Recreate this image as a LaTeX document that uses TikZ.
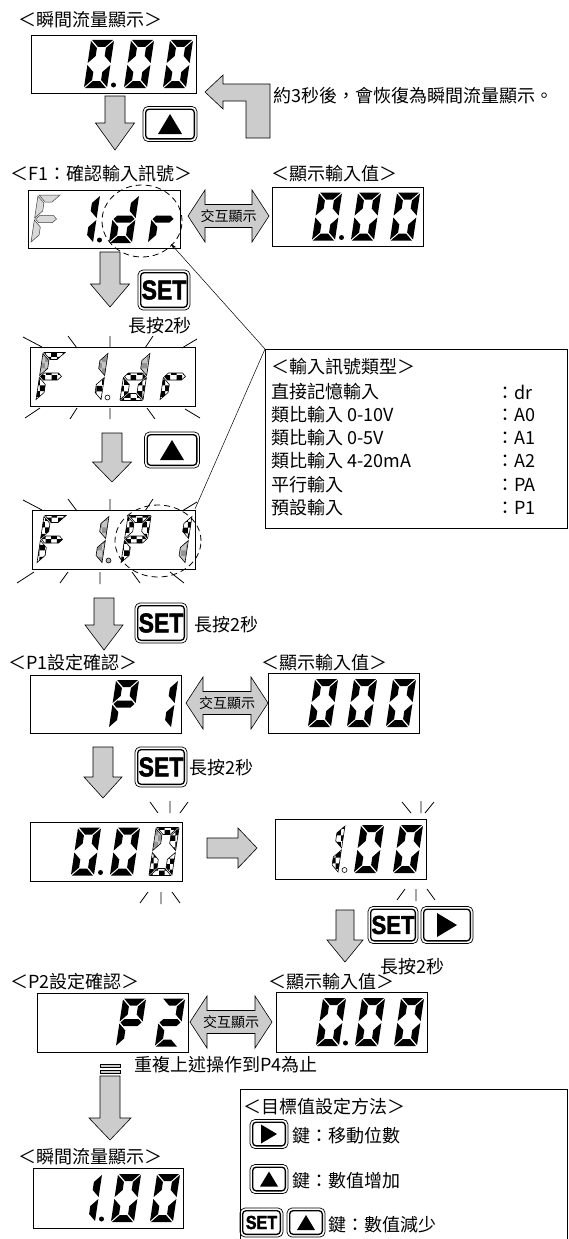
\documentclass[tikz,border=0pt]{standalone}
\usepackage{fontspec}
\setmainfont{Noto Sans CJK TC}
\newfontfamily\setfont{Liberation Sans}[BoldFeatures={FakeBold=2}]
\usepackage{graphicx}
\usetikzlibrary{patterns,calc,arrows.meta}

\tikzset{
  s0/.style={},
  s1/.style={fill=black},
  s2/.style={draw=black,line width=0.6pt,pattern=checkerboard,pattern color=black},
  s3/.style={draw=black,line width=0.6pt,preaction={fill=gray!45},pattern=checkerboard,pattern color=gray!85},
  s4/.style={draw=black!75,line width=0.5pt,fill=gray!30},
  dispbox/.style={draw,line width=0.8pt,inner sep=0pt,anchor=north west},
  garrow/.style={draw=black,line width=0.6pt,fill=black!20,line join=miter},
  lbl/.style={inner sep=0pt,anchor=west,font=\fontsize{18pt}{21pt}\selectfont},
  clbl/.style={inner sep=0pt,font=\fontsize{18pt}{21pt}\selectfont},
  xlbl/.style={inner sep=0pt,font=\fontsize{14pt}{16pt}\selectfont},
  ray/.style={line width=0.8pt},
}

% seven segment digit: x, y, then states of a b c d e f g
\newcommand\sdig[9]{%
  \begin{scope}[shift={(#1,#2)},xslant=0.15]
    \path[s#3] (-10.5,-24) -- (10.5,-24) -- (3.5,-17) -- (-3.5,-17) -- cycle;
    \path[s#4] (11.5,-23) -- (11.5,-1) -- (4.5,-8) -- (4.5,-16) -- cycle;
    \path[s#5] (11.5,23) -- (11.5,1) -- (4.5,8) -- (4.5,16) -- cycle;
    \path[s#6] (-10.5,24) -- (10.5,24) -- (3.5,17) -- (-3.5,17) -- cycle;
    \path[s#7] (-11.5,23) -- (-11.5,1) -- (-4.5,8) -- (-4.5,16) -- cycle;
    \path[s#8] (-11.5,-23) -- (-11.5,-1) -- (-4.5,-8) -- (-4.5,-16) -- cycle;
    \path[s#9] (-10.5,0) -- (-7,-3.5) -- (7,-3.5) -- (10.5,0) -- (7,3.5) -- (-7,3.5) -- cycle;
  \end{scope}}
\newcommand\dzero[2]{\sdig{#1}{#2}{1}{1}{1}{1}{1}{1}{0}}
\newcommand\done[2]{\sdig{#1}{#2}{0}{1}{1}{0}{0}{0}{0}}
\newcommand\dpt[3]{\path[#3] (#1,#2) circle (2.5pt);}

\newcommand\btnframe[5]{%
  \node[draw,line width=0.7pt,rounded corners=5pt,minimum width=#4pt,minimum height=#5pt,inner sep=0pt] (#1) at (#2,#3) {};
  \draw[line width=1.3pt,rounded corners=3.5pt] ([shift={(3pt,3pt)}]#1.south west) rectangle ([shift={(-3pt,-3pt)}]#1.north east);}
\newcommand\upbtn[7]{\btnframe{#1}{#2}{#3}{#4}{#5}%
  \fill ({#2-#6},{#3+#7}) -- ({#2+#6},{#3+#7}) -- (#2,{#3-#7}) -- cycle;}
\newcommand\rtbtn[7]{\btnframe{#1}{#2}{#3}{#4}{#5}%
  \fill ({#2-#6},{#3-#7}) -- ({#2-#6},{#3+#7}) -- ({#2+#6},#3) -- cycle;}
\newcommand\setbtn[6]{\btnframe{#1}{#2}{#3}{#4}{#5}%
  \node[inner sep=0pt] at (#1) {\setfont\bfseries\fontsize{#6pt}{#6pt}\selectfont\scalebox{0.85}[1]{SET}};}

% down block arrow: cx, top, headbase, tip, shaft half, head half
\newcommand\darrow[6]{%
  \path[garrow] ({#1-#5},#2) -- ({#1+#5},#2) -- ({#1+#5},#3) -- ({#1+#6},#3) -- (#1,#4) -- ({#1-#6},#3) -- ({#1-#5},#3) -- cycle;}
% double block arrow: name, x1, x2, cy
\newcommand\dblarrow[4]{%
  \path[garrow] (#2,#4) -- ({#2+17},{#4-26}) -- ({#2+17},{#4-11.5}) -- ({#3-17},{#4-11.5}) -- ({#3-17},{#4-26}) -- (#3,#4) -- ({#3-17},{#4+26}) -- ({#3-17},{#4+11.5}) -- ({#2+17},{#4+11.5}) -- ({#2+17},{#4+26}) -- cycle;
  \node[xlbl] (#1) at ({(#2+#3)/2},#4) {交互顯示};}

\begin{document}
\begin{tikzpicture}[x=1pt,y=-1pt]
\useasboundingbox[fill=white] (0,0) rectangle (568,1239);

% ---------- row 1
\node[lbl] (l1) at (18,20) {＜瞬間流量顯示＞};
\node[dispbox,minimum width=165pt,minimum height=58pt] (b1) at (31,35) {};
\dzero{99}{64}\dzero{139}{64}\dzero{178}{64}\dpt{113.5}{85}{fill=black}
\darrow{115}{96}{123}{150}{10}{19.5}
\upbtn{u1}{170}{124}{54}{35}{12}{10}
\path[garrow] (205,92) -- (223,75) -- (223,84) -- (270,84) -- (270,138) -- (246,138) -- (246,101) -- (223,101) -- (223,109) -- cycle;
\node[lbl] (t1) at (273,96) {約3秒後，會恢復為瞬間流量顯示。};

% ---------- row 2
\node[lbl] (l2) at (10,174) {＜F1：確認輸入訊號＞};
\node[lbl] (l3) at (271,174) {＜顯示輸入值＞};
\node[dispbox,minimum width=152pt,minimum height=58pt] (b2) at (28,190) {};
\sdig{46}{219}{4}{0}{0}{0}{4}{4}{4}
\done{85}{219}
\sdig{124}{219}{0}{1}{1}{1}{1}{0}{1}
\sdig{163}{219}{0}{0}{0}{0}{1}{0}{1}
\dpt{99.5}{240}{fill=black}
\draw[dashed,dash pattern=on 6pt off 4pt,line width=0.8pt] (142,221) ellipse [x radius=40pt,y radius=36pt];
\dblarrow{x1}{188}{269}{216}
\node[dispbox,minimum width=151pt,minimum height=59pt] (b2r) at (272,187) {};
\dzero{327}{216.5}\dzero{366}{216.5}\dzero{405}{216.5}\dpt{341.5}{237.5}{fill=black}

% ---------- row 3
\darrow{110}{252}{284}{307}{10}{19.5}
\setbtn{s1}{164}{290}{52}{40}{27}
\node[clbl] (h1) at (160,326) {長按2秒};

% ---------- row 4 (blinking F1.dr)
\node[dispbox,minimum width=165pt,minimum height=59pt] (b3) at (30,347) {};
\sdig{51}{376.5}{2}{0}{0}{0}{2}{3}{2}
\sdig{93}{376.5}{0}{3}{2}{0}{0}{0}{0}
\sdig{135}{376.5}{0}{3}{2}{2}{2}{0}{2}
\sdig{175}{376.5}{0}{0}{0}{0}{2}{0}{2}
\dpt{107.5}{397.5}{draw=black,line width=0.6pt,fill=white}
\draw[ray] (23,337) -- (42,347) (68,336) -- (77,348) (110,336) -- (110,347) (153,336) -- (145,348) (197,339) -- (182,348);
\draw[ray] (25,418) -- (40,408) (70,419) -- (77,408) (110,419) -- (110,408) (155,419) -- (147,408) (200,418) -- (185,409);
\darrow{112}{433}{462}{482}{10}{19.5}
\upbtn{u2}{172}{450}{55}{36}{12}{10}

% ---------- row 5 (blinking F1.P1)
\node[dispbox,minimum width=163pt,minimum height=59pt] (b4) at (32,510) {};
\sdig{52}{539.5}{2}{0}{0}{0}{2}{2}{2}
\sdig{94}{539.5}{0}{3}{3}{0}{0}{0}{0}
\sdig{136}{539.5}{2}{2}{0}{0}{2}{2}{2}
\sdig{177}{539.5}{0}{2}{3}{0}{0}{0}{0}
\dpt{108.5}{560.5}{draw=black,line width=0.6pt,fill=gray!60}
\draw[ray] (23,500) -- (42,510) (68,499) -- (77,511) (110,499) -- (110,510) (153,499) -- (145,511) (197,502) -- (182,511);
\draw[ray] (17,583) -- (34,572) (60,583) -- (68,572) (100,584) -- (100,572) (140,583) -- (132,572) (184,583) -- (170,572);
\draw[dashed,dash pattern=on 6pt off 4pt,line width=0.8pt] (158,541) ellipse [x radius=43pt,y radius=36pt];

% legend 1
\node[draw,line width=0.8pt,anchor=north west,minimum width=302pt,minimum height=179pt,inner sep=0pt] (leg1) at (265,349) {};
\coordinate (rtip) at (171,244);
\coordinate (ptip) at (195,509);
\draw[line width=0.5pt,-{Stealth[length=6pt,width=3.5pt]}] (leg1.north west) -- (rtip);
\draw[line width=0.5pt] (leg1.north west) -- (ptip);
\node[lbl] (g0) at (271,367) {＜輸入訊號類型＞};
\node[lbl] (g1) at (271,392) {直接記憶輸入};
\node[lbl] (g2) at (271,415) {類比輸入 0-10V};
\node[lbl] (g3) at (271,438) {類比輸入 0-5V};
\node[lbl] (g4) at (271,461) {類比輸入 4-20mA};
\node[lbl] (g5) at (271,485) {平行輸入};
\node[lbl] (g6) at (271,508) {預設輸入};
\node[lbl] (v1) at (496,392) {：dr};
\node[lbl] (v2) at (496,415) {：A0};
\node[lbl] (v3) at (496,438) {：A1};
\node[lbl] (v4) at (496,461) {：A2};
\node[lbl] (v5) at (496,485) {：PA};
\node[lbl] (v6) at (496,508) {：P1};

% ---------- row 6
\darrow{104}{598}{625}{650}{10}{19}
\setbtn{s2}{161}{623}{52}{40}{27}
\node[lbl] (h2) at (194,625) {長按2秒};
\node[lbl] (l4) at (8,663) {＜P1設定確認＞};
\node[lbl] (l5) at (261,663) {＜顯示輸入值＞};
\node[dispbox,minimum width=151pt,minimum height=58pt] (b5) at (30,675) {};
\sdig{124}{704}{1}{1}{0}{0}{1}{1}{1}
\done{163}{704}
\dblarrow{x2}{186}{268}{703}
\node[dispbox,minimum width=151pt,minimum height=60pt] (b5r) at (268,673) {};
\dzero{323}{703}\dzero{362}{703}\dzero{401}{703}

% ---------- row 7
\darrow{103}{747}{777}{798}{10}{19}
\setbtn{s3}{161}{767}{52}{40}{27}
\node[lbl] (h3) at (189,768) {長按2秒};
\node[dispbox,minimum width=152pt,minimum height=59pt] (b6) at (30,822) {};
\dzero{86}{851.5}\dzero{125}{851.5}
\sdig{164}{851.5}{2}{2}{2}{2}{2}{3}{0}
\dpt{100.5}{872.5}{fill=black}
\draw[ray] (150,802) -- (158,813) (170,801) -- (170,813) (188,802) -- (180,813);
\draw[ray] (140,903) -- (148,892) (161,904) -- (161,892) (180,903) -- (172,892);
\path[garrow] (207,838) -- (238,838) -- (238,828) -- (257,848) -- (238,868) -- (238,858) -- (207,858) -- cycle;
\node[dispbox,minimum width=151pt,minimum height=60pt] (b7) at (275,819) {};
\sdig{330}{849}{0}{2}{2}{0}{0}{0}{0}
\dzero{369}{849}\dzero{408}{849}
\dpt{344.5}{870}{draw=black,line width=0.6pt,fill=white}
\draw[ray] (402,802) -- (411,813) (421,801) -- (421,813) (434,802) -- (425,813);
\draw[ray] (397,900) -- (405,889) (416,901) -- (416,889) (435,900) -- (427,889);

% ---------- row 8
\darrow{345}{910}{940}{962}{9}{18}
\setbtn{s4}{393}{925}{50}{37}{26}
\rtbtn{r1}{447}{925}{52}{37}{10}{12}
\node[clbl] (h4) at (412,967) {長按2秒};
\node[lbl] (l6) at (10,982) {＜P2設定確認＞};
\node[lbl] (l7) at (268,982) {＜顯示輸入值＞};
\node[dispbox,minimum width=151pt,minimum height=59pt] (b8) at (37,993) {};
\sdig{131}{1022.5}{1}{1}{0}{0}{1}{1}{1}
\sdig{170}{1022.5}{1}{1}{0}{1}{1}{0}{1}
\dblarrow{x3}{190}{272}{1022}
\node[dispbox,minimum width=151pt,minimum height=60pt] (b8r) at (276,992) {};
\dzero{331}{1022}\dzero{370}{1022}\dzero{409}{1022}\dpt{345.5}{1043}{fill=black}

% ---------- row 9
\node[lbl] (rp) at (134,1065) {重複上述操作到P4為止};
\path[garrow] (100,1064) rectangle (120,1067.5);
\path[garrow] (100,1070) rectangle (120,1073.5);
\darrow{110}{1076}{1118}{1140}{10}{21}
\node[lbl] (l8) at (18,1157) {＜瞬間流量顯示＞};
\node[dispbox,minimum width=150pt,minimum height=60pt] (b9) at (33,1168) {};
\done{87}{1198}\dzero{126}{1198}\dzero{165}{1198}
\dpt{101.5}{1219}{fill=black}

% legend 2
\draw[line width=0.8pt] (240,1245) -- (240,1089) -- (567,1089) -- (567,1245);
\node[lbl] (m0) at (243,1107) {＜目標值設定方法＞};
\rtbtn{r2}{269}{1134}{38}{29}{8}{9.5}
\node[lbl] (m1) at (292,1136) {鍵：移動位數};
\upbtn{u3}{269}{1179}{38}{29}{9}{7.5}
\node[lbl] (m2) at (292,1181) {鍵：數值增加};
\setbtn{s5}{261.5}{1222.5}{43}{29}{19}
\upbtn{u4}{306}{1222.5}{38}{29}{9}{7.5}
\node[lbl] (m3) at (328,1225) {鍵：數值減少};
\end{tikzpicture}
\end{document}
